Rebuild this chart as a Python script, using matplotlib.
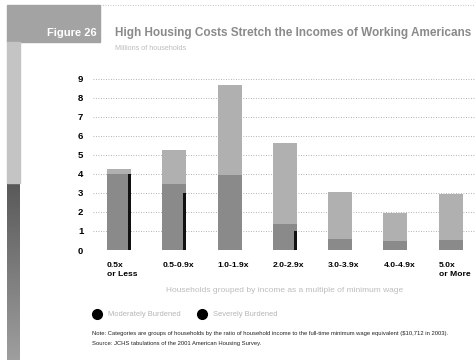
import matplotlib
matplotlib.use("Agg")
import matplotlib.pyplot as plt
from matplotlib.patches import Rectangle
import numpy as np

# Income groups (multiples of full-time minimum wage)
categories = ["0.5x\nor Less", "0.5-0.9x", "1.0-1.9x", "2.0-2.9x", "3.0-3.9x", "4.0-4.9x", "5.0x\nor More"]
# Millions of households
total_households = [4.25, 5.25, 8.7, 5.65, 3.05, 1.95, 2.95]
burdened = [4.0, 3.5, 3.95, 1.35, 0.6, 0.45, 0.55]
severe_marker = [4.0, 3.0, 0.0, 1.0, 0.0, 0.0, 0.0]
y_ticks = list(range(0, 10))

FONT = ["Liberation Sans", "DejaVu Sans"]

W, H = 475, 360
fig = plt.figure(figsize=(W / 100, H / 100), dpi=100)
fig.patch.set_facecolor("white")


def px(x, y, w, h):
    """Figure-fraction rectangle from pixel box (top-left origin)."""
    return [x / W, 1 - (y + h) / H, w / W, h / H]


# Sidebar decoration: tab and vertical strip
fig.patches.append(Rectangle((7 / W, 1 - 42 / H), 93 / W, 37 / H,
                             transform=fig.transFigure, color="#a3a3a3", zorder=0))
fig.patches.append(Rectangle((7 / W, 1 - 183 / H), 13 / W, 141 / H,
                             transform=fig.transFigure, color="#c4c4c4", zorder=0))
strip = fig.add_axes(px(7, 183, 13, 177))
grad = np.linspace(0.35, 0.62, 100).reshape(-1, 1)
strip.imshow(grad, cmap="gray", vmin=0, vmax=1, aspect="auto")
strip.axis("off")

# Faint dotted rule at top
fig.add_artist(plt.Line2D([100 / W, 1], [1 - 5 / H, 1 - 5 / H], transform=fig.transFigure,
                          color="#b0b0b0", lw=0.6, ls=(0, (1, 2))))

fig.text(97 / W, 1 - 33 / H, "Figure 26", ha="right", va="center", color="white",
         fontsize=8, fontweight="bold", family=FONT)
fig.text(115 / W, 1 - 33 / H, "High Housing Costs Stretch the Incomes of Working Americans",
         ha="left", va="center", color="#8a8a8a", fontsize=8.5, fontweight="bold", family=FONT)
fig.text(115 / W, 1 - 48 / H, "Millions of households", ha="left", va="center",
         color="#bdbdbd", fontsize=5.2, family=FONT)

# Chart axes
ymax = 9.2
ax = fig.add_axes([93 / W, (H - 250) / H, (W - 93) / W, ymax * 19 / H])
x = np.arange(len(categories))
bw = 0.434
ax.bar(x, total_households, width=bw, color="#b0b0b0", zorder=2)
ax.bar(x, burdened, width=bw, color="#8a8a8a", zorder=3)
sw = 0.05
ax.bar(x + bw / 2 - sw, severe_marker, width=sw, align="edge", color="#111111", zorder=4)

ax.set_ylim(0, ymax)
ax.set_xlim(-0.47, 6.44)
ax.set_yticks(y_ticks)
for t in y_ticks:
    ax.axhline(t, color="#999999", lw=0.6, ls=(0, (1, 2)), zorder=1)
for s in ax.spines.values():
    s.set_visible(False)
ax.tick_params(axis="y", length=0, pad=7, labelsize=6.8)
for lbl in ax.get_yticklabels():
    lbl.set_fontweight("bold")
    lbl.set_family(FONT)
ax.set_xticks([])

for i, c in enumerate(categories):
    fig.text((119 + 55.3 * i - 12) / W, 1 - 262 / H, c, ha="left", va="top", fontsize=6.1,
             fontweight="bold", family=FONT, linespacing=1.45)

fig.text(285 / W, 1 - 290 / H, "Households grouped by income as a multiple of minimum wage",
         ha="center", va="center", color="#bdbdbd", fontsize=6, family=FONT)

# Legend
for cx, label in [(97, "Moderately Burdened"), (202, "Severely Burdened")]:
    fig.add_artist(plt.Line2D([cx / W], [1 - 314 / H], transform=fig.transFigure,
                              marker="o", ms=7, color="black", ls="none"))
    fig.text((cx + 11) / W, 1 - 314 / H, label, ha="left", va="center", color="#b5b5b5",
             fontsize=5.4, family=FONT)

fig.text(92 / W, 1 - 334 / H,
         "Note: Categories are groups of households by the ratio of household income to the full-time minimum wage equivalent ($10,712 in 2003).",
         ha="left", va="center", fontsize=4.2, family=FONT, color="#222222")
fig.text(92 / W, 1 - 343 / H, "Source: JCHS tabulations of the 2001 American Housing Survey.",
         ha="left", va="center", fontsize=4.2, family=FONT, color="#222222")

fig.savefig("out.png", dpi=100)
